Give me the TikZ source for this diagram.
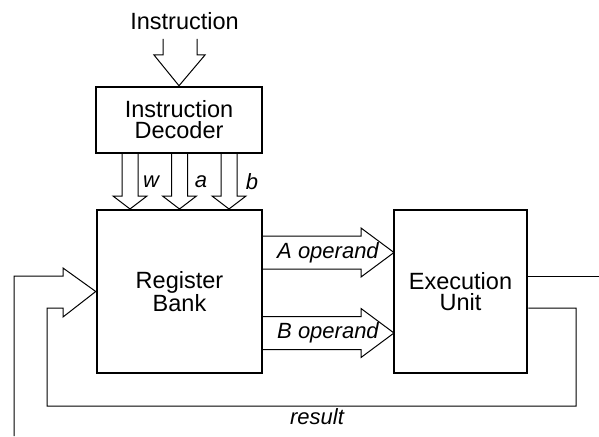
\documentclass[tikz,border=0pt]{standalone}
\usepackage{fontspec}
\setmainfont{Liberation Sans}
\tikzset{
  unit/.style={draw, line width=2.5pt, align=center, inner sep=0pt},
  wire/.style={line width=1pt},
  tag/.style={font=\fontsize{22}{20}\selectfont\itshape}
}
\begin{document}
\begin{tikzpicture}[x=1pt, y=-1pt, font=\fontsize{23.5}{21}\selectfont]
\useasboundingbox (0,0) rectangle (599,436);
\node[anchor=base] (instr) at (184.5,30) {Instruction};
\node[unit, minimum width=166pt, minimum height=66pt] (dec) at (179,120) {Instruction\\Decoder};
\node[unit, minimum width=165pt, minimum height=163pt] (rb) at (179.5,291.5) {Register\\Bank};
\node[unit, minimum width=133pt, minimum height=163pt] (eu) at (460.5,291.5) {Execution\\Unit};
% instruction in
\draw[wire] (163,39) -- (163,55) -- (154,55) -- (dec.north) -- (205,55) -- (197,55) -- (197,39);
% decoded fields
\foreach \x/\t/\l in {130/151/w, 179.5/201/a, 229/252/b} {
  \draw[wire] (\x-8,153) -- (\x-8,196) -- (\x-17,196) -- (\x,209) -- (\x+17,196) -- (\x+8,196) -- (\x+8,153);
  \node[tag] (lbl-\l) at (\t,182) {\l};
}
% operands
\foreach \y/\n in {252.5/A, 333/B} {
  \draw[wire] (262,\y-16.5) -- (361,\y-16.5) -- (361,\y-24.5) -- (394,\y) -- (361,\y+24.5) -- (361,\y+16.5) -- (262,\y+16.5);
  \node[tag] (op-\n) at (328,\y) {\n\ operand};
}
% feedback
\draw[wire] (14,436) -- (14,276) -- (63,276) -- (63,268) -- (rb.west) -- (63,317) -- (63,308) -- (47,308) -- (47,406) -- (576,406) -- (576,308) -- (eu.east |- 0,308);
\draw[wire] (eu.east |- 0,276) -- (599,276);
\node[tag] (res) at (317,417) {result};
\end{tikzpicture}
\end{document}
